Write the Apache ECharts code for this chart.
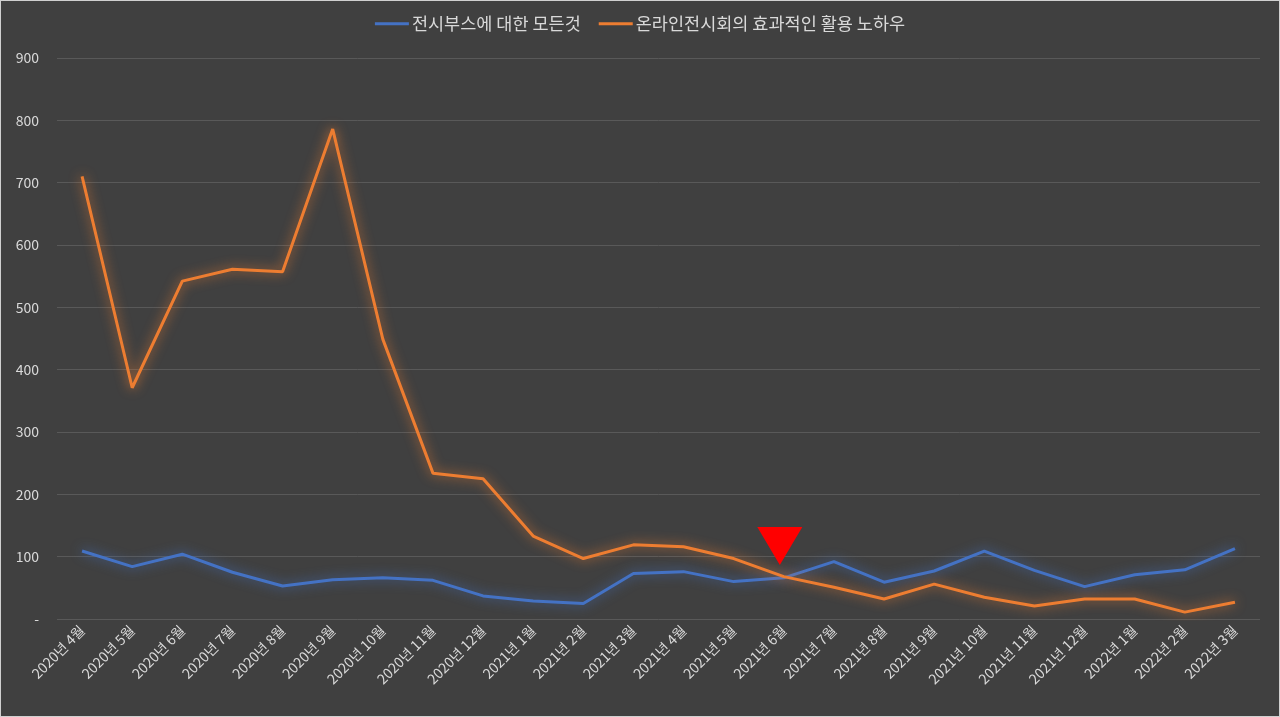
<!DOCTYPE html>
<html>
<head>
<meta charset="utf-8">
<script src="https://cdn.jsdelivr.net/npm/echarts@6/dist/echarts.min.js"></script>
<style>
  html, body { margin: 0; padding: 0; background: #404040; }
  #chart { width: 1280px; height: 717px; box-sizing: border-box; border: 1px solid #d0d0d0; }
</style>
</head>
<body>
<div id="chart"></div>
<script>
// 카테고리 (월)
var months = ['2020년 4월','2020년 5월','2020년 6월','2020년 7월','2020년 8월','2020년 9월','2020년 10월','2020년 11월','2020년 12월',
  '2021년 1월','2021년 2월','2021년 3월','2021년 4월','2021년 5월','2021년 6월','2021년 7월','2021년 8월','2021년 9월','2021년 10월','2021년 11월','2021년 12월',
  '2022년 1월','2022년 2월','2022년 3월'];
// 시리즈 값
var boothName = '전시부스에 대한 모든것';
var boothData = [109, 84, 104, 75, 53, 63, 66, 62, 37, 29, 25, 73, 76, 60, 66, 92, 59, 77, 109, 78, 52, 71, 79, 113];
var onlineName = '온라인전시회의 효과적인 활용 노하우';
var onlineData = [710, 371, 542, 561, 557, 786, 449, 234, 225, 133, 97, 119, 116, 97, 68, 51, 32, 56, 35, 21, 32, 32, 11, 27];
// y축 눈금
var yMin = 0, yMax = 900, yStep = 100;
// 강조 표시 위치
var markMonth = '2021년 6월';
var markValue = 117;

var chart = echarts.init(document.getElementById('chart'));
var textColor = '#d9d9d9';
var font = '"Noto Sans CJK KR", "Noto Sans", sans-serif';

var option = {
  backgroundColor: '#404040',
  textStyle: { fontFamily: font },
  animation: false,
  legend: {
    top: 9,
    left: 'center',
    icon: 'rect',
    itemWidth: 34,
    itemHeight: 3,
    itemGap: 18,
    textStyle: { color: textColor, fontSize: 17.5, fontFamily: font, padding: [0, 0, 0, -2] },
    data: [boothName, onlineName]
  },
  grid: { left: 56, right: 19, top: 57, bottom: 97, containLabel: false },
  xAxis: {
    type: 'category',
    data: months,
    boundaryGap: true,
    axisLine: { show: false },
    axisTick: { show: false },
    axisLabel: {
      color: textColor,
      fontSize: 14,
      rotate: 45,
      margin: 9,
      interval: 0,
      fontFamily: font
    }
  },
  yAxis: {
    type: 'value',
    min: yMin,
    max: yMax,
    interval: yStep,
    axisLine: { show: false },
    axisTick: { show: false },
    splitLine: { lineStyle: { color: '#595959', width: 1 } },
    axisLabel: {
      color: textColor,
      fontSize: 14,
      margin: 18,
      fontFamily: font,
      formatter: function (v) { return v === 0 ? '-' : v; }
    }
  },
  series: [{
    name: boothName,
    type: 'line',
    data: boothData,
    showSymbol: false,
    symbol: 'none',
    itemStyle: { color: '#4472c4' },
    lineStyle: {
      color: '#4472c4', width: 3,
      shadowColor: 'rgba(68,114,196,0.9)', shadowBlur: 12
    }
  }, {
    name: onlineName,
    type: 'line',
    data: onlineData,
    showSymbol: false,
    symbol: 'none',
    itemStyle: { color: '#ed7d31' },
    lineStyle: {
      color: '#ed7d31', width: 3,
      shadowColor: 'rgba(237,125,49,0.9)', shadowBlur: 12
    },
    markPoint: {
      silent: true,
      symbol: 'triangle',
      symbolRotate: 180,
      symbolSize: [45, 38],
      symbolOffset: [-4, 0],
      label: { show: false },
      itemStyle: { color: '#ff0000', shadowBlur: 0 },
      data: [{ coord: [markMonth, markValue] }]
    }
  }]
};
chart.setOption(option);
</script>
</body>
</html>
